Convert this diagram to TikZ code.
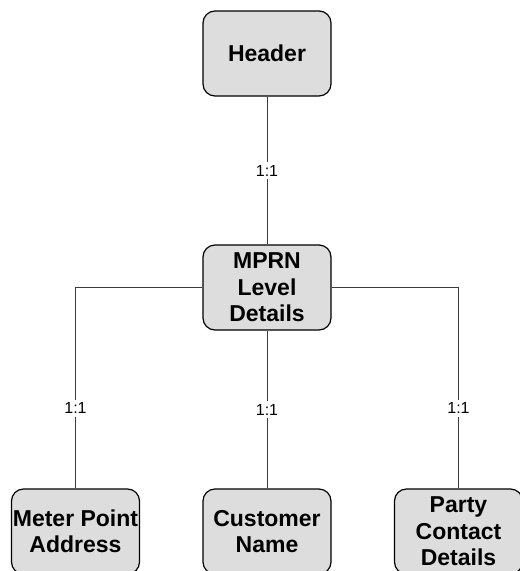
\documentclass[tikz,border=0pt]{standalone}
\usepackage{fontspec}
\setmainfont{Liberation Sans}
\definecolor{boxfill}{RGB}{221,221,221}
\definecolor{linecol}{RGB}{60,60,60}
\begin{document}
\begin{tikzpicture}[x=1pt,y=-1pt,
  entity/.style={draw=black, line width=1.2pt, fill=boxfill, rounded corners=12pt,
    minimum width=128pt, minimum height=85pt, inner sep=0pt, align=center,
    font=\fontsize{23}{26.5}\selectfont\bfseries},
  conn/.style={draw=linecol, line width=0.9pt},
  card/.style={fill=white, inner sep=3pt, font=\fontsize{16}{18}\selectfont}]
\useasboundingbox (0,0) rectangle (520,571);
\node[entity] (hdr) at (267,53.5) {Header};
\node[entity] (mprn) at (267,287.5) {MPRN\\Level\\Details};
\node[entity] (mpa) at (75.5,531.5) {Meter Point\\Address};
\node[entity] (cust) at (267,531.5) {Customer\\Name};
\node[entity] (party) at (458.5,531.5) {Party\\Contact\\Details};
\path[conn] (hdr) -- node[card] {1:1} (mprn);
\path[conn] (mprn.west) -| node[card, pos=0.8] {1:1} (mpa.north);
\path[conn] (mprn.south) -- node[card] {1:1} (cust.north);
\path[conn] (mprn.east) -| node[card, pos=0.8] {1:1} (party.north);
\end{tikzpicture}
\end{document}
